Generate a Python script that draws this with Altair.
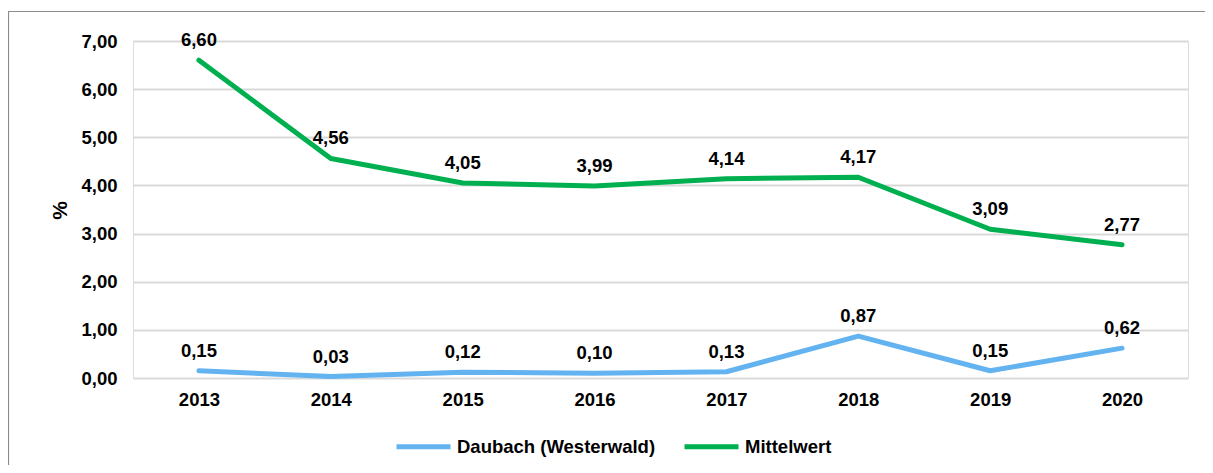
import altair as alt
import pandas as pd

years = ["2013", "2014", "2015", "2016", "2017", "2018", "2019", "2020"]
daubach = [0.15, 0.03, 0.12, 0.10, 0.13, 0.87, 0.15, 0.62]
mittelwert = [6.60, 4.56, 4.05, 3.99, 4.14, 4.17, 3.09, 2.77]
series_names = ["Daubach (Westerwald)", "Mittelwert"]
series_colors = ["#63B3F0", "#00B050"]

rows = []
for name, vals in zip(series_names, [daubach, mittelwert]):
    for y, v in zip(years, vals):
        rows.append({"Jahr": y, "Wert": v, "Reihe": name})
df = pd.DataFrame(rows)

FONT = "Liberation Sans"
FS = 18.5

base = alt.Chart(df)

frame = alt.Chart(pd.DataFrame({"a": [0]})).mark_rect(
    fill=None, stroke="#8c8c8c", strokeWidth=1.2, clip=False
).encode(
    x=alt.value(-124.5), x2=alt.value(1100),
    y=alt.value(-29.5), y2=alt.value(460)
)

color = alt.Color(
    "Reihe:N",
    scale=alt.Scale(domain=series_names, range=series_colors),
    sort=series_names,
    legend=alt.Legend(
        title=None, orient="none", direction="horizontal",
        legendX=261, legendY=376,
        symbolType="stroke", symbolSize=2916, symbolStrokeWidth=5,
        labelFont=FONT, labelFontSize=FS, labelFontWeight="bold",
        labelColor="#000000", labelOffset=4, columnPadding=18,
        labelLimit=400,
    ),
)

xenc = alt.X(
    "Jahr:N", sort=years, title=None,
    scale=alt.Scale(paddingInner=0, paddingOuter=0),
    axis=alt.Axis(
        labelAngle=0, ticks=False, domain=False, grid=False,
        labelFont=FONT, labelFontSize=FS, labelFontWeight="bold",
        labelColor="#000000", labelPadding=12,
    ),
)

yenc = alt.Y(
    "Wert:Q",
    scale=alt.Scale(domain=[0, 7], nice=False),
    title="%",
    axis=alt.Axis(
        values=[0, 1, 2, 3, 4, 5, 6, 7],
        labelExpr="replace(format(datum.value, '.2f'), '.', ',')",
        ticks=False, domain=False, grid=True,
        gridColor="#d9d9d9", gridWidth=2,
        labelFont=FONT, labelFontSize=FS, labelFontWeight="bold",
        labelColor="#000000", labelPadding=16,
        titleFont=FONT, titleFontSize=21, titleFontWeight="bold",
        titleColor="#000000", titleAngle=-90,
        titleX=-73, titleY=169, titleAlign="center", titleBaseline="middle",
    ),
)

lines = base.mark_line(strokeWidth=5, strokeCap="round", strokeJoin="round").encode(
    x=xenc, y=yenc, color=color
)

labels = base.transform_calculate(
    lab="replace(format(datum.Wert, '.2f'), '.', ',')"
).mark_text(
    font=FONT, fontSize=FS, fontWeight="bold", color="#000000",
    baseline="bottom", dy=-10
).encode(
    x=alt.X("Jahr:N", sort=years),
    y=alt.Y("Wert:Q"),
    text="lab:N",
)

chart = alt.layer(frame, lines, labels).properties(
    width=1055, height=337,
    autosize=alt.AutoSizeParams(type="none"),
    padding={"left": 125, "top": 33, "right": 17, "bottom": 87},
).configure_view(stroke=None).configure(background="#ffffff")

chart.save("out.html", embed_options={"renderer": "svg", "actions": False})
